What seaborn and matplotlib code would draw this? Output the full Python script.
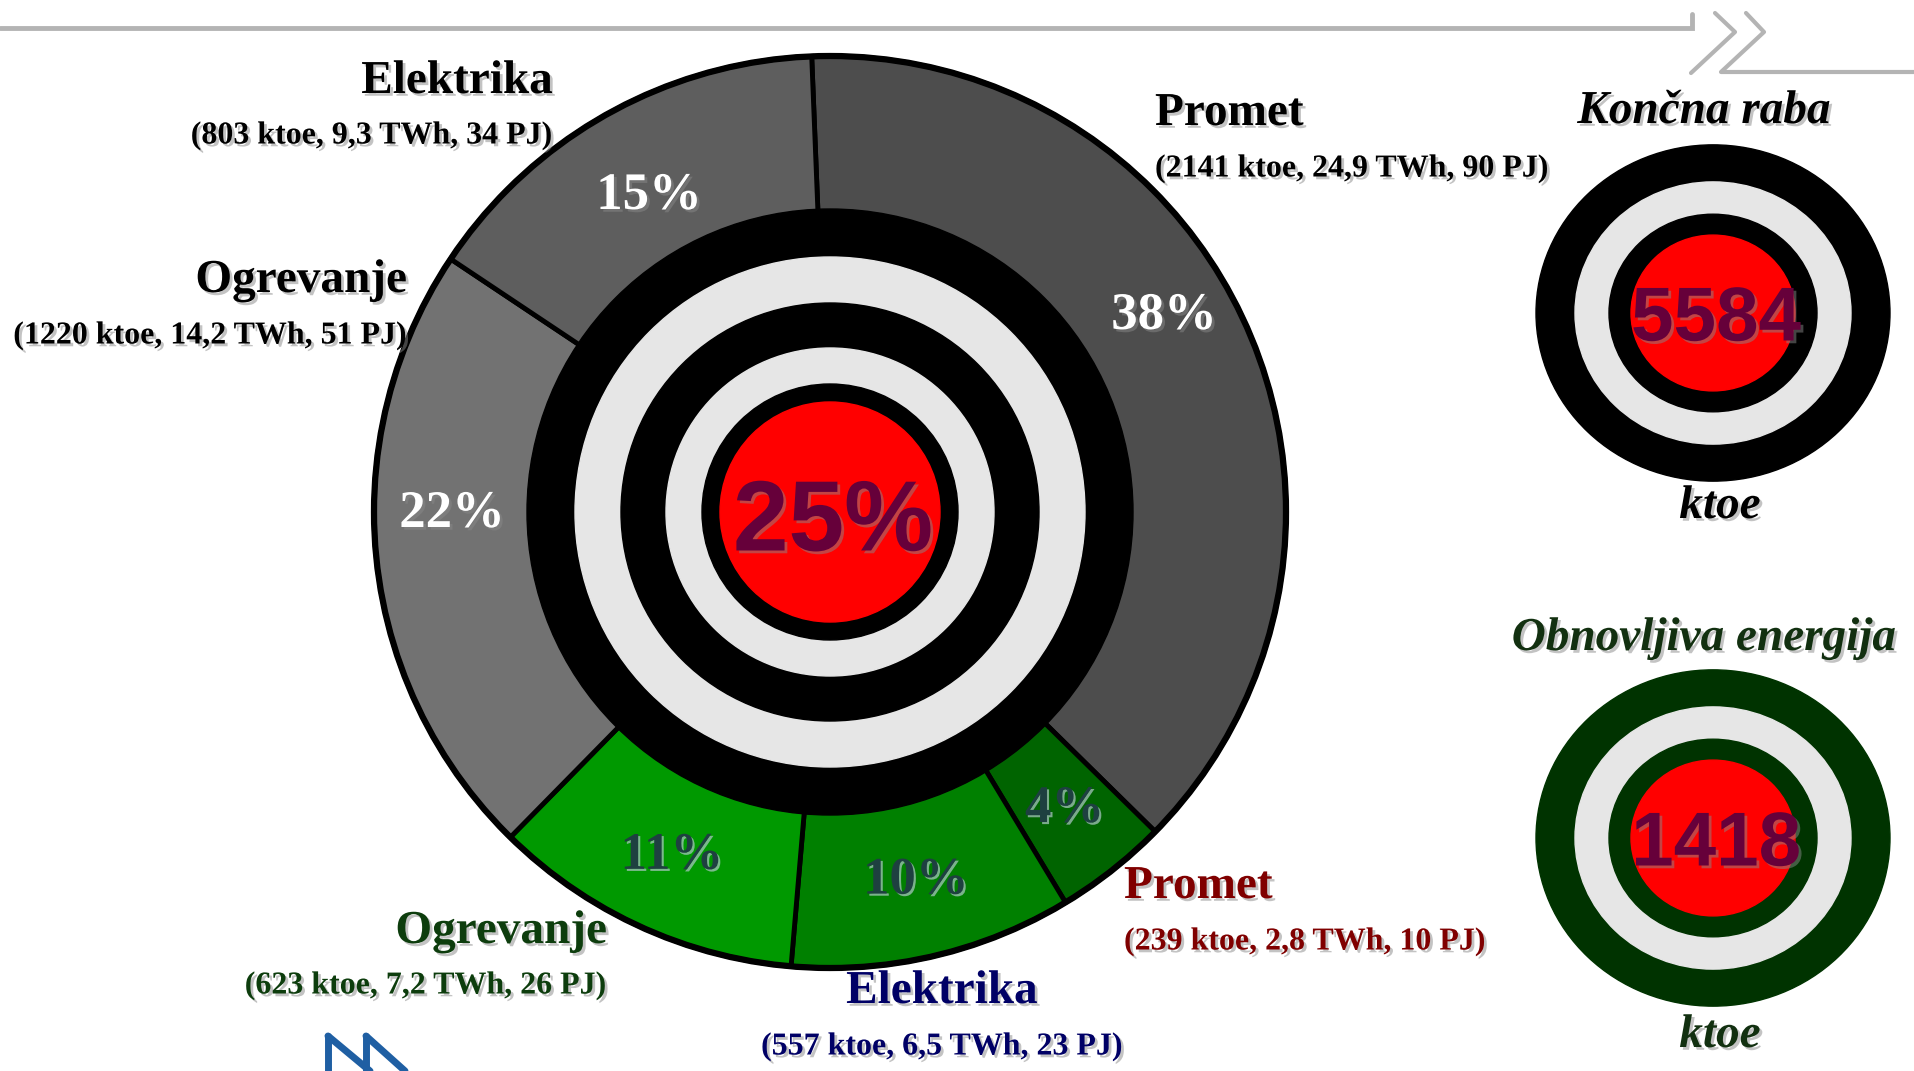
import numpy as np
import pandas as pd
import matplotlib
matplotlib.use('Agg')
import matplotlib.pyplot as plt
import matplotlib.patheffects as pe
from matplotlib.patches import Circle, Ellipse
import seaborn as sns

sns.set_theme(style='white')
plt.rcParams['font.family'] = ['Liberation Serif', 'DejaVu Serif']

# podatki (koncna raba energije po sektorjih)
sektorji = ['Promet', 'Promet', 'Elektrika', 'Ogrevanje', 'Ogrevanje', 'Elektrika']
ktoe = [2141, 239, 557, 623, 1220, 803]
twh = [24.9, 2.8, 6.5, 7.2, 14.2, 9.3]
pj = [90, 10, 23, 26, 51, 34]
delezi = [38, 4, 10, 11, 22, 15]
barve = ['#4d4d4d', '#006400', '#008000', '#009900', '#727272', '#5e5e5e']
koncna_raba = 5584
obnovljiva = 1418
delez_ove = '25%'

W, H = 1915, 1071
fig = plt.figure(figsize=(W / 100, H / 100), dpi=100)
ax = fig.add_axes([0, 0, 1, 1])

senca = [pe.SimplePatchShadow(offset=(2, -2), shadow_rgbFace='#888888', alpha=0.5), pe.Normal()]
senca_svetla = [pe.SimplePatchShadow(offset=(1.5, -1.5), shadow_rgbFace='#b0c8c8', alpha=0.7), pe.Normal()]

# glavni krog
cx, cy = 830, H - 512
wedges, _, pct_texts = ax.pie(delezi, colors=barve, startangle=92.3, counterclock=False,
                              radius=456, center=(cx, cy), autopct='%.0f%%',
                              pctdistance=0.83, frame=True,
                              wedgeprops=dict(edgecolor='black', linewidth=3.5))
for i, t in enumerate(pct_texts):
    t.set_fontsize(38)
    t.set_fontweight('bold')
    if i in (1, 2, 3):
        t.set_color('#1e4040')
        t.set_path_effects(senca_svetla)
    else:
        t.set_color('white')
        t.set_path_effects(senca)
    t.set_zorder(6)
# nekaj odstotkov je v izvirniku zamaknjenih od sredine izseka
pct_texts[0].set_position((1164, H - 316))
pct_texts[4].set_position((452, H - 514))
pct_texts[5].set_position((649, H - 196))

ax.add_patch(Circle((cx, cy), 456, fill=False, ec='black', lw=4.5, zorder=4))
for r, c in [(303, 'black'), (255, '#e6e6e6'), (209, 'black'), (164, '#e6e6e6'), (128, 'black'), (110, '#ff0000')]:
    ax.add_patch(Circle((cx, cy), r, color=c, zorder=4))
ax.text(cx + 3, cy - 2, delez_ove, ha='center', va='center_baseline', fontsize=72,
        fontweight='bold', family=['Liberation Sans'], color='#66003a', zorder=6, path_effects=senca)

# oznake sektorjev
def opis(i):
    return f"({ktoe[i]} ktoe, {str(twh[i]).replace('.', ',')} TWh, {pj[i]} PJ)"

oznake = [  # (indeks, x, y naslova, y opisa, poravnava, barva)
    (0, 1155, 114, 169, 'left', 'black'),
    (1, 1124, 887, 942, 'left', '#800000'),
    (2, 942, 992, 1047, 'center', '#000066'),
    (3, 607, 932, 986, 'right', '#0d3d0d'),
    (4, 407, 281, 336, 'right', 'black'),
    (5, 553, 82, 136, 'right', 'black'),
]
for i, x, y1, y2, ha, c in oznake:
    ax.text(x, H - y1, sektorji[i], ha=ha, va='center', fontsize=34, fontweight='bold',
            color=c, path_effects=senca, zorder=6)
    ax.text(x, H - y2, opis(i), ha=ha, va='center', fontsize=23, fontweight='bold',
            color=c, path_effects=senca, zorder=6)

# desni tarci
def tarca(x, y, barva, stevilka, naslov, barva_besedila, y_nas, y_kt):
    for rx, c in [(177, barva), (138, '#e6e6e6'), (104, barva), (82, '#ff0000')]:
        ax.add_patch(Ellipse((x, H - y), 2 * rx, 2 * rx * 0.95, color=c, zorder=4))
    ax.text(x + 3, H - y, str(stevilka), ha='center', va='center_baseline', fontsize=55,
            fontweight='bold', family=['Liberation Sans'], color='#66003a', zorder=6, path_effects=senca)
    ax.text(x - 9, H - y_nas, naslov, ha='center', va='center', fontsize=34, fontweight='bold',
            fontstyle='italic', color=barva_besedila, zorder=6, path_effects=senca)
    ax.text(x + 7, H - y_kt, 'ktoe', ha='center', va='center', fontsize=34, fontweight='bold',
            fontstyle='italic', color=barva_besedila, zorder=6, path_effects=senca)

tarca(1713, 313, 'black', koncna_raba, 'Končna raba', 'black', 112, 507)
tarca(1713, 838, '#003300', obnovljiva, 'Obnovljiva energija', '#123010', 639, 1036)

# glava in logotip
siva = '#b4b4b4'
ax.plot([0, 1692, 1692], [H - 28, H - 28, H - 14], color=siva, lw=3.5, solid_joinstyle='miter')
ax.plot([1715, 1735, 1691], [H - 13, H - 32, H - 73], color=siva, lw=3)
ax.plot([1746, 1764, 1721, W], [H - 13, H - 32, H - 72, H - 72], color=siva, lw=3)
modra = '#1f5fa3'
ax.plot([328, 328], [H - 1036, 0], color=modra, lw=5)
ax.plot([328, 370], [H - 1036, 0], color=modra, lw=5)
ax.plot([366, 366], [H - 1036, 0], color=modra, lw=5)
ax.plot([366, 405], [H - 1036, 0], color=modra, lw=5)

ax.set_xlim(0, W)
ax.set_ylim(0, H)
ax.set_aspect('auto')
ax.axis('off')
fig.savefig('out.png', dpi=100, facecolor='white')
